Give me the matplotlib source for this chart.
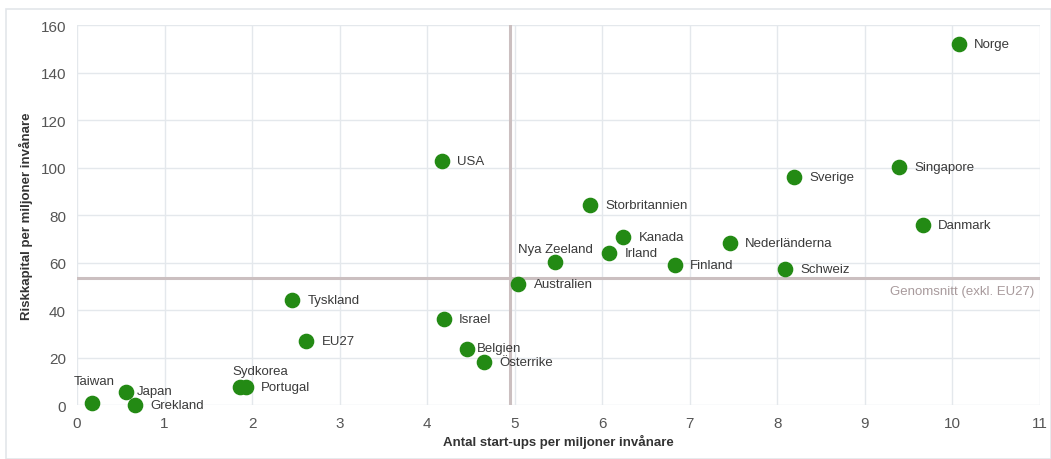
import matplotlib.pyplot as plt
from matplotlib.patches import Rectangle

# data
countries = ["Taiwan", "Japan", "Grekland", "Sydkorea", "Portugal", "Tyskland", "EU27",
             "USA", "Israel", "Belgien", "Österrike", "Australien", "Nya Zeeland",
             "Storbritannien", "Irland", "Kanada", "Finland", "Nederländerna", "Schweiz",
             "Sverige", "Singapore", "Danmark", "Norge"]
startups = [0.17, 0.56, 0.66, 1.86, 1.93, 2.46, 2.62,
            4.17, 4.19, 4.46, 4.65, 5.04, 5.46,
            5.86, 6.08, 6.24, 6.83, 7.46, 8.09,
            8.19, 9.39, 9.66, 10.07]
riskkapital = [1.0, 5.5, 0.0, 7.5, 7.5, 44.5, 27.0,
               103.0, 36.5, 23.5, 18.0, 51.0, 60.5,
               84.5, 64.0, 71.0, 59.0, 68.5, 57.5,
               96.0, 100.5, 76.0, 152.0]
avg_x = 4.95
avg_y = 53.5

# label offsets in points (dx, dy, ha)
offsets = {
    "Taiwan": (2, 16, "center"),
    "Sydkorea": (15, 11.5, "center"),
    "Nya Zeeland": (0, 9, "center"),
    "Belgien": (7, 1, "left"),
    "Japan": (8, 1, "left"),
}

green = "#238a14"
line_col = "#cbbfc0"
text_col = "#3a3a3a"

plt.rcParams['font.family'] = ['Liberation Sans', 'DejaVu Sans']

fig = plt.figure(figsize=(10.51, 4.6), dpi=100)
ax = fig.add_axes([0.0733, 0.117, 0.9162, 0.826])

fig.patches.append(Rectangle((0.006, 0.0), 0.994, 0.978, transform=fig.transFigure,
                             fill=False, edgecolor="#e3e6ea", linewidth=1.2))

ax.set_xlim(0, 11)
ax.set_ylim(0, 160)
ax.set_xticks(range(0, 12))
ax.set_yticks(range(0, 161, 20))
ax.grid(True, color="#e4e8ec", linewidth=1.0)
ax.set_axisbelow(True)
for s in ax.spines.values():
    s.set_visible(False)
ax.tick_params(length=0, labelsize=11, colors="#555555", pad=8)

ax.axhline(avg_y, color=line_col, linewidth=2.2, zorder=2)
ax.plot([avg_x, avg_x], [0.8, 160], color=line_col, linewidth=2.2, zorder=2)
ax.text(10.93, avg_y - 3, "Genomsnitt (exkl. EU27)", ha="right", va="top",
        fontsize=9.5, color="#a89a9c")

ax.scatter(startups, riskkapital, s=105, color=green, zorder=3, clip_on=False)

for name, x, y in zip(countries, startups, riskkapital):
    dx, dy, ha = offsets.get(name, (11, 0, "left"))
    ax.annotate(name, (x, y), xytext=(dx, dy), textcoords="offset points",
                ha=ha, va="center", fontsize=9.5, color=text_col)

ax.set_xlabel("Antal start-ups per miljoner invånare", fontsize=9.5,
              fontweight="bold", color="#333333", labelpad=3)
ax.set_ylabel("Riskkapital per miljoner invånare", fontsize=9.5,
              fontweight="bold", color="#333333", labelpad=5)

fig.savefig("out.png", dpi=100)
